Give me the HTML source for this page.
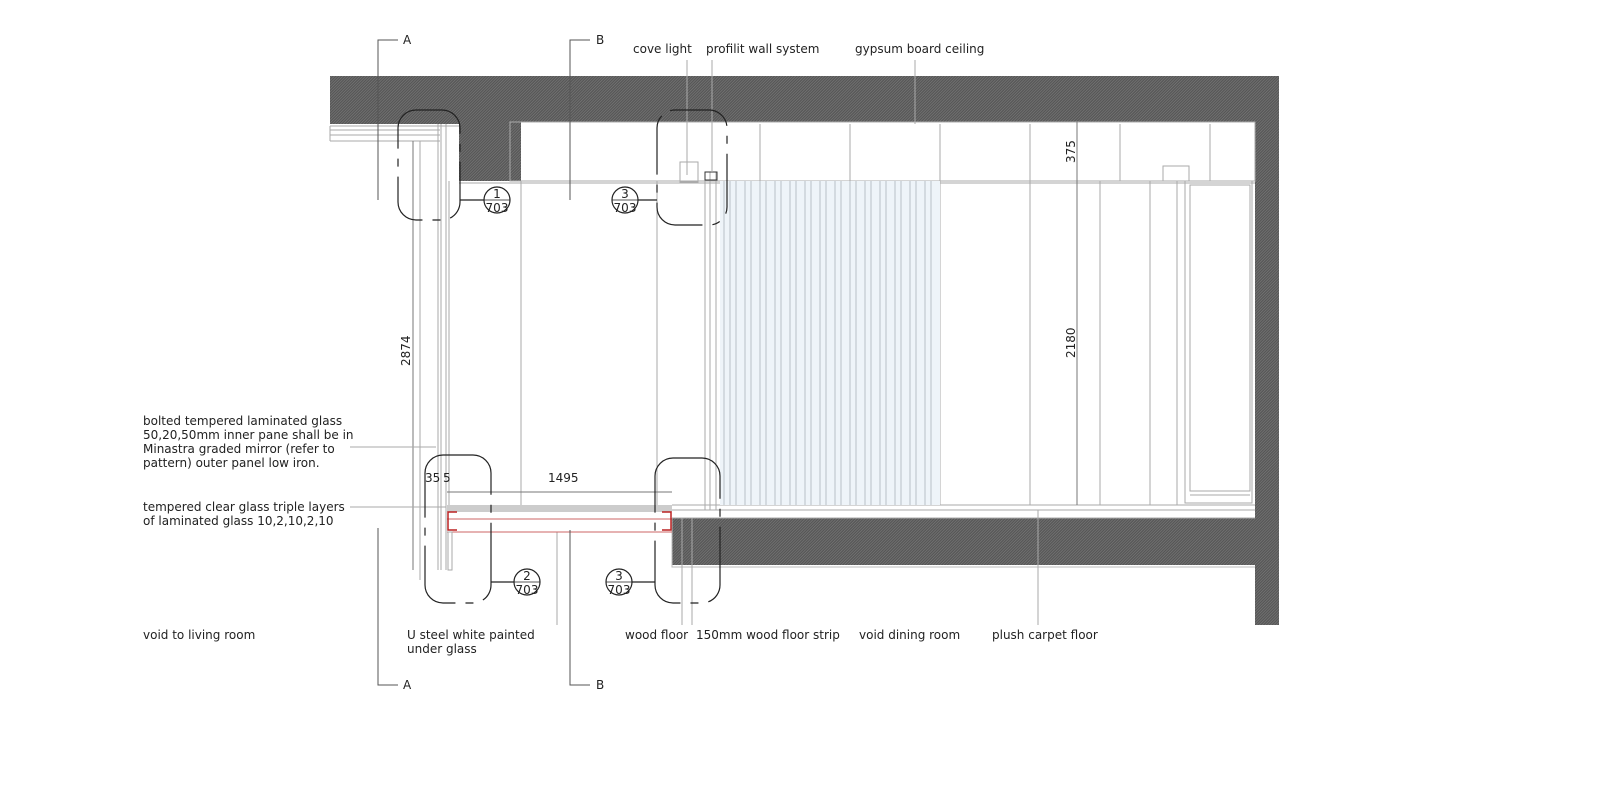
<!DOCTYPE html>
<html><head><meta charset="utf-8"><style>
html,body{margin:0;padding:0;background:#fff}
svg{display:block}
text{font-family:"DejaVu Sans","Liberation Sans",sans-serif;font-size:12px;fill:#222}
</style></head><body>
<svg width="1600" height="792" viewBox="0 0 1600 792" xmlns="http://www.w3.org/2000/svg">
<defs>
<pattern id="h" width="2" height="2" patternUnits="userSpaceOnUse" patternTransform="rotate(45)">
<rect width="2" height="2" fill="#555"/><rect width="0.7" height="2" fill="#7a7a7a"/>
</pattern>
</defs>
<path d="M330 76H1279V625H1255V122H521V181H459V124H330Z" fill="url(#h)"/>
<rect x="672" y="518" width="583" height="47" fill="url(#h)"/>
<path d="M672 518V567H1255" fill="none" stroke="#bbb"/>
<g stroke="#aaa" fill="none">
<line x1="330" y1="126" x2="459" y2="126"/><line x1="330" y1="130" x2="440" y2="130"/>
<line x1="330" y1="135" x2="440" y2="135"/><line x1="330" y1="141" x2="440" y2="141"/>
<line x1="330" y1="126" x2="330" y2="141"/>
<line x1="438" y1="124" x2="438" y2="570"/><line x1="441" y1="124" x2="441" y2="570"/>
<line x1="446" y1="124" x2="446" y2="570"/><line x1="449" y1="181" x2="449" y2="505"/>
<line x1="420" y1="141" x2="420" y2="580"/>
<rect x="510" y="122" width="745" height="59"/>
<line x1="459" y1="183" x2="1255" y2="183"/>
<line x1="521" y1="181" x2="521" y2="505"/>
<line x1="657" y1="181" x2="657" y2="505"/>
<line x1="570" y1="122" x2="570" y2="200"/>
<line x1="760" y1="124" x2="760" y2="181"/><line x1="850" y1="124" x2="850" y2="181"/>
<line x1="940" y1="124" x2="940" y2="505"/><line x1="1030" y1="124" x2="1030" y2="505"/>
<line x1="1120" y1="124" x2="1120" y2="181"/><line x1="1210" y1="124" x2="1210" y2="181"/>
<line x1="1100" y1="181" x2="1100" y2="505"/><line x1="1150" y1="181" x2="1150" y2="505"/>
<line x1="1177" y1="181" x2="1177" y2="505"/>
<rect x="1185" y="181" width="67" height="322"/>
<rect x="1190" y="185" width="60" height="306"/>
<line x1="1190" y1="495" x2="1250" y2="495"/>
<rect x="680" y="162" width="18" height="20"/><rect x="1163" y="166" width="26" height="15"/>
<line x1="672" y1="505" x2="1255" y2="505"/><line x1="672" y1="510" x2="1255" y2="510"/>
<line x1="672" y1="518" x2="1255" y2="518"/>
<line x1="705" y1="172" x2="705" y2="510"/><line x1="710" y1="172" x2="710" y2="510"/>
<line x1="716" y1="172" x2="716" y2="510"/>
<rect x="705" y="172" width="12" height="8" stroke="#333"/>
<line x1="413" y1="141" x2="413" y2="570" stroke="#777"/>
<line x1="1077" y1="122" x2="1077" y2="505" stroke="#777"/>
<line x1="447" y1="492" x2="672" y2="492" stroke="#777"/>
<line x1="687" y1="60" x2="687" y2="175"/><line x1="712" y1="60" x2="712" y2="172"/>
<line x1="915" y1="60" x2="915" y2="124"/>
<line x1="350" y1="447" x2="436" y2="447"/><line x1="350" y1="507" x2="446" y2="507"/>
<line x1="557" y1="532" x2="557" y2="625"/><line x1="682" y1="518" x2="682" y2="625"/>
<line x1="692" y1="518" x2="692" y2="625"/><line x1="1038" y1="510" x2="1038" y2="625"/>
</g>
<rect x="720" y="181" width="220" height="324" fill="#eef4f9"/>
<g stroke="#b8c0c8">
<line x1="724" y1="181" x2="724" y2="505"/><line x1="730" y1="181" x2="730" y2="505"/>
<line x1="736" y1="181" x2="736" y2="505"/><line x1="745" y1="181" x2="745" y2="505"/>
<line x1="751" y1="181" x2="751" y2="505"/><line x1="760" y1="181" x2="760" y2="505"/>
<line x1="766" y1="181" x2="766" y2="505"/><line x1="775" y1="181" x2="775" y2="505"/>
<line x1="781" y1="181" x2="781" y2="505"/><line x1="790" y1="181" x2="790" y2="505"/>
<line x1="796" y1="181" x2="796" y2="505"/><line x1="805" y1="181" x2="805" y2="505"/>
<line x1="811" y1="181" x2="811" y2="505"/><line x1="820" y1="181" x2="820" y2="505"/>
<line x1="826" y1="181" x2="826" y2="505"/><line x1="835" y1="181" x2="835" y2="505"/>
<line x1="841" y1="181" x2="841" y2="505"/><line x1="850" y1="181" x2="850" y2="505"/>
<line x1="856" y1="181" x2="856" y2="505"/><line x1="865" y1="181" x2="865" y2="505"/>
<line x1="871" y1="181" x2="871" y2="505"/><line x1="880" y1="181" x2="880" y2="505"/>
<line x1="886" y1="181" x2="886" y2="505"/><line x1="895" y1="181" x2="895" y2="505"/>
<line x1="901" y1="181" x2="901" y2="505"/><line x1="910" y1="181" x2="910" y2="505"/>
<line x1="916" y1="181" x2="916" y2="505"/><line x1="925" y1="181" x2="925" y2="505"/>
<line x1="931" y1="181" x2="931" y2="505"/>
</g>
<rect x="447" y="505" width="225" height="7" fill="#ccc"/>
<g fill="none">
<line x1="447" y1="519" x2="672" y2="519" stroke="#c66"/>
<line x1="447" y1="532" x2="672" y2="532" stroke="#c66"/>
<path d="M457 512H448V530H457" stroke="#b22" stroke-width="1.5"/>
<path d="M662 512H671V530H662" stroke="#b22" stroke-width="1.5"/>
<rect x="448" y="532" width="4" height="38" stroke="#aaa"/>
</g>
<g fill="none" stroke="#222" stroke-width="1.2">
<rect x="398" y="110" width="62" height="110" rx="18" stroke-dasharray="60 10 8 10"/>
<rect x="657" y="110" width="70" height="115" rx="18" stroke-dasharray="60 10 8 10"/>
<rect x="425" y="455" width="66" height="148" rx="18" stroke-dasharray="80 10 8 10"/>
<rect x="655" y="458" width="65" height="145" rx="18" stroke-dasharray="80 10 8 10"/>
<line x1="460" y1="200" x2="484" y2="200"/><line x1="638" y1="200" x2="657" y2="200"/>
<line x1="491" y1="582" x2="514" y2="582"/><line x1="632" y1="582" x2="655" y2="582"/>
<circle cx="497" cy="200" r="13"/><circle cx="625" cy="200" r="13"/>
<circle cx="527" cy="582" r="13"/><circle cx="619" cy="582" r="13"/>
<line x1="484" y1="200" x2="510" y2="200" stroke-width="0.8"/><line x1="612" y1="200" x2="638" y2="200" stroke-width="0.8"/>
<line x1="514" y1="582" x2="540" y2="582" stroke-width="0.8"/><line x1="606" y1="582" x2="632" y2="582" stroke-width="0.8"/>
</g>
<g text-anchor="middle" style="font-size:12px">
<text x="497" y="198">1</text><text x="497" y="212">703</text>
<text x="625" y="198">3</text><text x="625" y="212">703</text>
<text x="527" y="580">2</text><text x="527" y="594">703</text>
<text x="619" y="580">3</text><text x="619" y="594">703</text>
</g>
<g stroke="#555" fill="none">
<path d="M398 40H378V200"/><path d="M590 40H570V200"/>
<path d="M378 528V685H398"/><path d="M570 530V685H590"/>
</g>
<text x="403" y="44">A</text><text x="596" y="44">B</text>
<text x="403" y="689">A</text><text x="596" y="689">B</text>
<text x="410" y="366" transform="rotate(-90 410 366)">2874</text>
<text x="1075" y="358" transform="rotate(-90 1075 358)">2180</text>
<text x="1075" y="163" transform="rotate(-90 1075 163)">375</text>
<text x="425" y="482">35</text><text x="443" y="482">5</text>
<text x="548" y="482">1495</text>
<text x="633" y="53">cove light</text>
<text x="706" y="53">profilit wall system</text>
<text x="855" y="53">gypsum board ceiling</text>
<text x="143" y="425">bolted tempered laminated glass</text>
<text x="143" y="439">50,20,50mm inner pane shall be in</text>
<text x="143" y="453">Minastra graded mirror (refer to</text>
<text x="143" y="467">pattern) outer panel low iron.</text>
<text x="143" y="511">tempered clear glass triple layers</text>
<text x="143" y="525">of laminated glass 10,2,10,2,10</text>
<text x="143" y="639">void to living room</text>
<text x="407" y="639">U steel white painted</text>
<text x="407" y="653">under glass</text>
<text x="625" y="639">wood floor</text>
<text x="696" y="639">150mm wood floor strip</text>
<text x="859" y="639">void dining room</text>
<text x="992" y="639">plush carpet floor</text>
</svg>
</body></html>
